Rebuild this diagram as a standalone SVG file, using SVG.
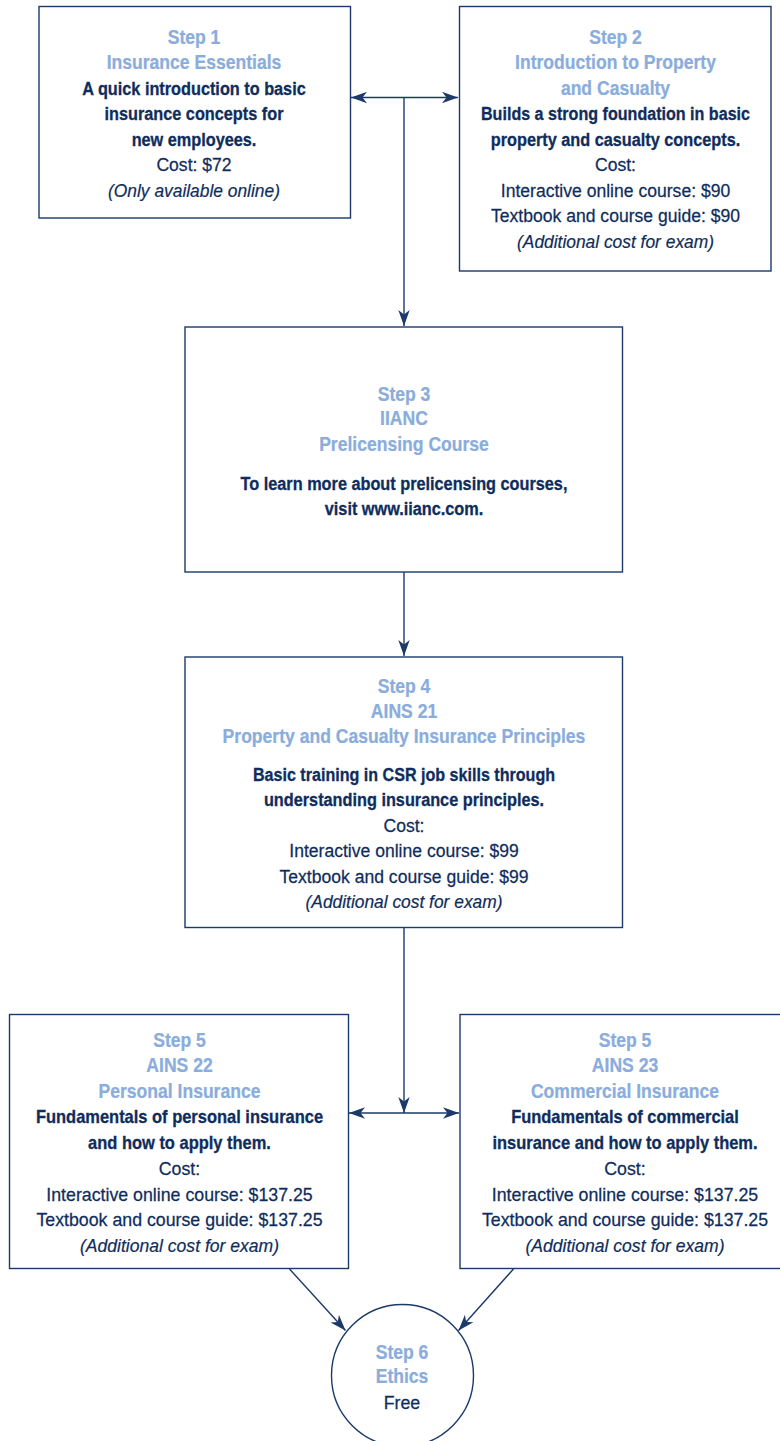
<svg xmlns="http://www.w3.org/2000/svg" width="780" height="1441" viewBox="0 0 780 1441">
<style>
text{font-family:"Liberation Sans",Arial,Helvetica,sans-serif;text-anchor:middle}
.t{font-size:19.5px;font-weight:bold;fill:#8aaddc;stroke:#8aaddc;stroke-width:.25}
.b{font-size:18.5px;font-weight:bold;fill:#0f2d5c;stroke:#0f2d5c;stroke-width:.3}
.r{font-size:18.5px;fill:#0f2d5c;stroke:#0f2d5c;stroke-width:.25}
.i{font-size:18.5px;font-style:italic;fill:#0f2d5c;stroke:#0f2d5c;stroke-width:.2}
.box{fill:#fff;stroke:#1b3a6a;stroke-width:1.4}
.ln{fill:none;stroke:#1b3a6a;stroke-width:1.4}
</style>
<defs>
<marker id="ah" viewBox="0 0 16 12" refX="16" refY="6" markerWidth="16" markerHeight="12" markerUnits="userSpaceOnUse" orient="auto-start-reverse">
<path d="M0,0.3 L16,6 L0,11.7 L4.5,6 Z" fill="#1b3a6a"/>
</marker>
</defs>
<rect width="780" height="1441" fill="#fff"/>

<g id="connectors">
<line class="ln" x1="351" y1="97.5" x2="458" y2="97.5" marker-start="url(#ah)" marker-end="url(#ah)"/>
<line class="ln" x1="404" y1="97.5" x2="404" y2="326" marker-end="url(#ah)"/>
<line class="ln" x1="404" y1="572" x2="404" y2="656" marker-end="url(#ah)"/>
<line class="ln" x1="404" y1="928" x2="404" y2="1113" marker-end="url(#ah)"/>
<line class="ln" x1="349" y1="1113" x2="459" y2="1113" marker-start="url(#ah)" marker-end="url(#ah)"/>
<line class="ln" x1="289.5" y1="1269" x2="345.5" y2="1330.5" marker-end="url(#ah)"/>
<line class="ln" x1="513.5" y1="1269" x2="458.5" y2="1330.5" marker-end="url(#ah)"/>
</g>

<g id="step1">
<rect class="box" x="39" y="6.5" width="311.5" height="211.5"/>
<g transform="translate(194 0)">
<text class="t" x="0" y="44" transform="scale(.9 1)">Step 1</text>
<text class="t" x="0" y="69.5" transform="scale(.9 1)">Insurance Essentials</text>
<text class="b" x="0" y="95" transform="scale(.88 1)">A quick introduction to basic</text>
<text class="b" x="0" y="120.5" transform="scale(.88 1)">insurance concepts for</text>
<text class="b" x="0" y="146" transform="scale(.88 1)">new employees.</text>
<text class="r" x="0" y="171.5" transform="scale(.95 1)">Cost: $72</text>
<text class="i" x="0" y="197" transform="scale(.94 1)">(Only available online)</text>
</g>
</g>

<g id="step2">
<rect class="box" x="459.5" y="6.5" width="311.5" height="264.5"/>
<g transform="translate(615.5 0)">
<text class="t" x="0" y="44" transform="scale(.9 1)">Step 2</text>
<text class="t" x="0" y="69.5" transform="scale(.9 1)">Introduction to Property</text>
<text class="t" x="0" y="95" transform="scale(.9 1)">and Casualty</text>
<text class="b" x="0" y="120.5" transform="scale(.87 1)">Builds a strong foundation in basic</text>
<text class="b" x="0" y="146" transform="scale(.88 1)">property and casualty concepts.</text>
<text class="r" x="0" y="171.5" transform="scale(.95 1)">Cost:</text>
<text class="r" x="0" y="197" transform="scale(.95 1)">Interactive online course: $90</text>
<text class="r" x="0" y="222.5" transform="scale(.95 1)">Textbook and course guide: $90</text>
<text class="i" x="0" y="248" transform="scale(.94 1)">(Additional cost for exam)</text>
</g>
</g>

<g id="step3">
<rect class="box" x="185" y="327" width="437.5" height="245"/>
<g transform="translate(404 0)">
<text class="t" x="0" y="401.5" transform="scale(.9 1)">Step 3</text>
<text class="t" x="0" y="425.5" transform="scale(.9 1)">IIANC</text>
<text class="t" x="0" y="451" transform="scale(.9 1)">Prelicensing Course</text>
<text class="b" x="0" y="490" transform="scale(.88 1)">To learn more about prelicensing courses,</text>
<text class="b" x="0" y="515" transform="scale(.88 1)">visit www.iianc.com.</text>
</g>
</g>

<g id="step4">
<rect class="box" x="185" y="657" width="437.5" height="270.5"/>
<g transform="translate(404 0)">
<text class="t" x="0" y="693.5" transform="scale(.9 1)">Step 4</text>
<text class="t" x="0" y="718" transform="scale(.9 1)">AINS 21</text>
<text class="t" x="0" y="743" transform="scale(.9 1)">Property and Casualty Insurance Principles</text>
<text class="b" x="0" y="781" transform="scale(.87 1)">Basic training in CSR job skills through</text>
<text class="b" x="0" y="806.5" transform="scale(.88 1)">understanding insurance principles.</text>
<text class="r" x="0" y="832" transform="scale(.95 1)">Cost:</text>
<text class="r" x="0" y="857.5" transform="scale(.95 1)">Interactive online course: $99</text>
<text class="r" x="0" y="883" transform="scale(.95 1)">Textbook and course guide: $99</text>
<text class="i" x="0" y="908.5" transform="scale(.94 1)">(Additional cost for exam)</text>
</g>
</g>

<g id="step5-personal">
<rect class="box" x="9.5" y="1014.5" width="339" height="254"/>
<g transform="translate(179.5 0)">
<text class="t" x="0" y="1047" transform="scale(.9 1)">Step 5</text>
<text class="t" x="0" y="1072.5" transform="scale(.9 1)">AINS 22</text>
<text class="t" x="0" y="1098" transform="scale(.9 1)">Personal Insurance</text>
<text class="b" x="0" y="1123.5" transform="scale(.89 1)">Fundamentals of personal insurance</text>
<text class="b" x="0" y="1149.5" transform="scale(.89 1)">and how to apply them.</text>
<text class="r" x="0" y="1175.5" transform="scale(.96 1)">Cost:</text>
<text class="r" x="0" y="1201" transform="scale(.96 1)">Interactive online course: $137.25</text>
<text class="r" x="0" y="1226.5" transform="scale(.96 1)">Textbook and course guide: $137.25</text>
<text class="i" x="0" y="1252" transform="scale(.95 1)">(Additional cost for exam)</text>
</g>
</g>

<g id="step5-commercial">
<rect class="box" x="460" y="1014.5" width="330" height="254"/>
<g transform="translate(625 0)">
<text class="t" x="0" y="1047" transform="scale(.9 1)">Step 5</text>
<text class="t" x="0" y="1072.5" transform="scale(.9 1)">AINS 23</text>
<text class="t" x="0" y="1098" transform="scale(.9 1)">Commercial Insurance</text>
<text class="b" x="0" y="1123.5" transform="scale(.89 1)">Fundamentals of commercial</text>
<text class="b" x="0" y="1149.5" transform="scale(.89 1)">insurance and how to apply them.</text>
<text class="r" x="0" y="1175.5" transform="scale(.96 1)">Cost:</text>
<text class="r" x="0" y="1201" transform="scale(.96 1)">Interactive online course: $137.25</text>
<text class="r" x="0" y="1226.5" transform="scale(.96 1)">Textbook and course guide: $137.25</text>
<text class="i" x="0" y="1252" transform="scale(.95 1)">(Additional cost for exam)</text>
</g>
</g>

<g id="step6">
<circle class="box" cx="402.5" cy="1375.5" r="71"/>
<g transform="translate(402 0)">
<text class="t" x="0" y="1359.5" transform="scale(.9 1)">Step 6</text>
<text class="t" x="0" y="1383.5" transform="scale(.9 1)">Ethics</text>
<text class="r" x="0" y="1409.5" transform="scale(.96 1)">Free</text>
</g>
</g>
</svg>
